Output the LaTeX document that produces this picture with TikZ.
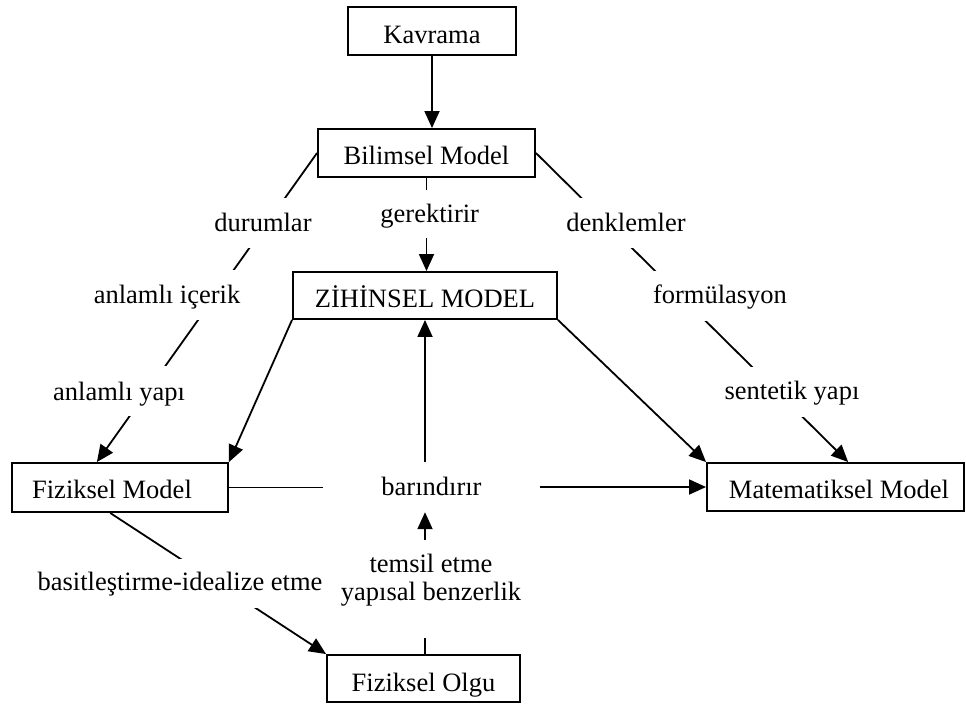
\documentclass[tikz,border=0pt]{standalone}
\usepackage{fontspec}
\setmainfont{Liberation Serif}
\usetikzlibrary{arrows.meta,calc}

% text whose baseline sits a given distance below the node centre
\newcommand{\sinkto}[2]{\raisebox{-#1}[0pt][0pt]{#2}}
\newcommand{\mainsize}{\fontsize{26.5}{27.5}\selectfont}

\begin{document}
\begin{tikzpicture}[x=1pt,y=-1pt,
  box/.style={draw, line width=1.9pt, inner sep=0pt, font=\mainsize},
  textbox/.style={inner sep=0pt, minimum height=50pt, font=\mainsize},
  tag/.style={fill=white, inner xsep=8pt, inner ysep=0pt, minimum height=50pt, font=\mainsize},
  link/.style={line width=1.8pt},
  arrowed/.style={link, -{Triangle[length=17pt,width=15pt]}}]
\useasboundingbox (0,0) rectangle (966,704);

% framed boxes
\node[box, minimum width=168pt, minimum height=48pt] (kav) at (432,31) {\sinkto{12pt}{Kavrama}};
\node[box, minimum width=217pt, minimum height=48pt] (bil) at (426.5,153) {\sinkto{11pt}{Bilimsel Model}};
\node[box, minimum width=264pt, minimum height=47pt] (zih) at (425,295.5) {\sinkto{11.5pt}{ZİHİNSEL MODEL}};
\node[box, minimum width=216pt, minimum height=49pt] (fm) at (120,487.5) {\sinkto{10.5pt}{Fiziksel Model\hspace{16pt}}};
\node[box, minimum width=257pt, minimum height=48pt] (mm) at (835.5,487) {\sinkto{11pt}{\hspace{7pt}Matematiksel Model}};
\node[box, minimum width=193pt, minimum height=47pt] (fo) at (423.5,678.5) {\sinkto{13pt}{Fiziksel Olgu}};

% unframed text boxes of the middle column
\node[textbox, minimum width=217pt] (bar) at (431.5,487) {\sinkto{8pt}{barındırır}};
\node[textbox, minimum width=217pt, minimum height=98pt] (tem) at (431,589)
  {\sinkto{11pt}{\begin{tabular}[b]{@{}c@{}}temsil etme\\yapısal benzerlik\end{tabular}}};

% connectors
\draw[arrowed] (kav.south) -- (kav.south |- bil.north);
\draw[arrowed] (bil.south) -- (bil.south |- zih.north);
\draw[link] (fm.east) -- (fm.east -| bar.west);
\draw[arrowed] (bar.east) -- (bar.east -| mm.west);
\draw[arrowed] (zih.south |- bar.north) -- (zih.south);
\draw[arrowed] (zih.south |- tem.north) -- (zih.south |- bar.south);
\draw[link] (zih.south |- fo.north) -- (zih.south |- tem.south);
\draw[arrowed] (bil.west) -- ($(fm.north west)!0.394!(fm.north east)$);
\draw[arrowed] (bil.east) -- ($(mm.north west)!0.549!(mm.north east)$);
\draw[arrowed] (zih.south west) -- (fm.north east);
\draw[arrowed] (zih.south east) -- (mm.north west);
\draw[arrowed] ($(fm.south west)!0.455!(fm.south east)$) -- (fo.north west);

% labels set over the connectors
\node[tag] (ldur) at (263,223) {\sinkto{8.7pt}{durumlar}};
\node[tag] (lani) at (167,295) {\sinkto{8pt}{anlamlı içerik}};
\node[tag] (lany) at (119,391) {\sinkto{9pt}{anlamlı yapı}};
\node[tag] (lden) at (626,223) {\sinkto{8.7pt}{denklemler}};
\node[tag] (lfor) at (720,296) {\sinkto{7pt}{formülasyon}};
\node[tag] (lsen) at (792,391.5) {\sinkto{7.5pt}{sentetik yapı}};
\node[tag, minimum height=48pt] (lger) at (429.7,214) {\sinkto{8pt}{gerektirir}};
\node[tag, minimum height=49pt] (lbas) at (180,583.5) {\sinkto{7.2pt}{basitleştirme-idealize etme}};
\end{tikzpicture}
\end{document}
